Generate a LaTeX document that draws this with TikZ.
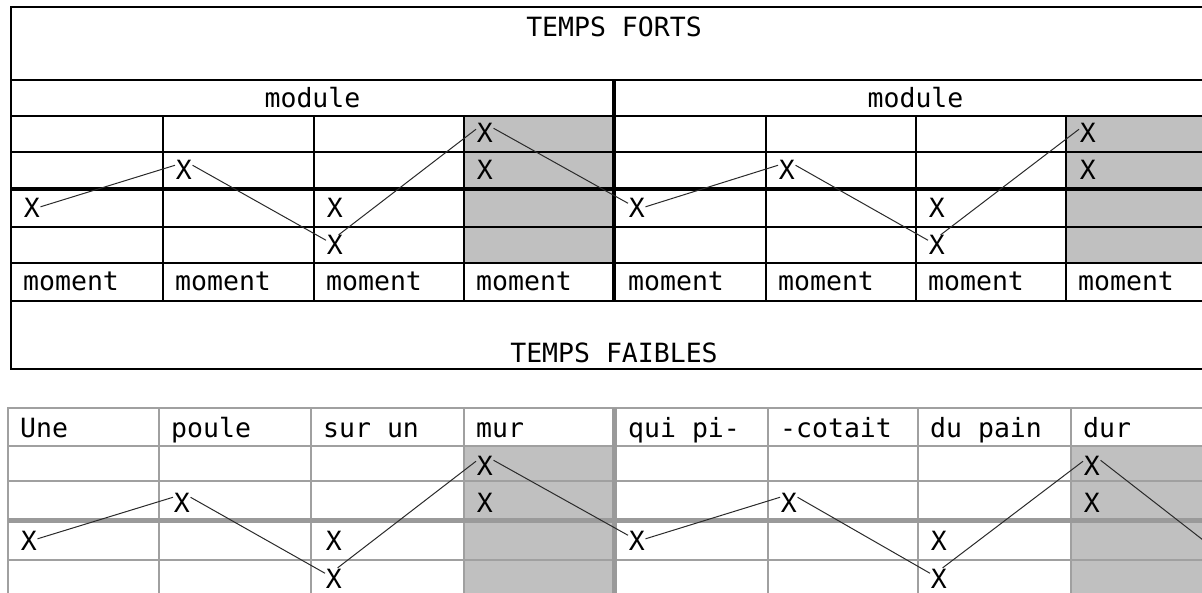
\documentclass[tikz,border=0pt]{standalone}
\usepackage{fontspec}
\newfontfamily\mono{DejaVu Sans Mono}
\definecolor{shadegray}{HTML}{C0C0C0}
\definecolor{gridgray}{HTML}{A0A0A0}
\definecolor{thickgray}{HTML}{9A9A9A}
\definecolor{linkgray}{HTML}{2A2A2A}
\tikzset{
  topline/.style={black, line width=1.3pt},
  topthick/.style={black, line width=4.5pt},
  botline/.style={gridgray, line width=1.5pt},
  botthick/.style={thickgray, line width=5pt},
  shadecell/.style={fill=shadegray},
  txt/.style={font=\mono\fontsize{26.5pt}{30pt}\selectfont, inner sep=0pt},
  cell/.style={txt, anchor=base west},
  ctr/.style={txt, anchor=base},
  mk/.style={txt, anchor=base west, inner sep=0.6pt},
  link/.style={draw=linkgray, line width=1pt},
}
\begin{document}
\begin{tikzpicture}[x=1pt, y=-1pt]
\useasboundingbox (0,0) rectangle (1202,593);

% ---------- upper table ----------
\fill[shadecell] (464,116) rectangle (614,263);
\fill[shadecell] (1066,116) rectangle (1217,263);
\draw[topline] (1217,7) -- (11,7) -- (11,369) -- (1217,369);
\foreach \yy in {80,116,152,227,263,301}
  \draw[topline] (11,\yy) -- (1217,\yy);
\foreach \xx in {163,314,464,766,916,1066}
  \draw[topline] (\xx,116) -- (\xx,301);
\draw[topthick] (11,189) -- (1217,189);
\draw[topthick] (614,80) -- (614,301);

\node[ctr] (tforts) at (614,37) {TEMPS FORTS};
\node[ctr] (modA) at (312.5,108) {module};
\node[ctr] (modB) at (915.5,108) {module};
\foreach \xx/\nm in {23/m1,175/m2,326/m3,476/m4,628/m5,778/m6,928/m7,1078/m8}
  \node[cell] (\nm) at (\xx,291) {moment};
\node[ctr] (tfaibles) at (614,363) {TEMPS FAIBLES};

% marks, rows of the upper grid (baselines 143, 180, 218, 255)
\node[mk] (a1)  at (23,218)   {X};
\node[mk] (a2)  at (175,180)  {X};
\node[mk] (a3)  at (326,218)  {X};
\node[mk] (a3b) at (326,255)  {X};
\node[mk] (a4)  at (476,143)  {X};
\node[mk] (a4b) at (476,180)  {X};
\node[mk] (a5)  at (628,218)  {X};
\node[mk] (a6)  at (778,180)  {X};
\node[mk] (a7)  at (928,218)  {X};
\node[mk] (a7b) at (928,255)  {X};
\node[mk] (a8)  at (1079,143) {X};
\node[mk] (a8b) at (1079,180) {X};

\draw[link] (a1.10) -- (a2.150);
\draw[link] (a2.30) -- (a3b.150);
\draw[link] (a3b.70) -- (a4.155);
\draw[link] (a4.30) -- (a5.150);
\draw[link] (a5.10) -- (a6.150);
\draw[link] (a6.30) -- (a7b.150);
\draw[link] (a7b.70) -- (a8.155);

% ---------- lower table ----------
\fill[shadecell] (464,446) rectangle (614,600);
\fill[shadecell] (1071,446) rectangle (1217,600);
\draw[botline] (1217,408) -- (8,408) -- (8,600);
\foreach \yy in {446,481,560}
  \draw[botline] (8,\yy) -- (1217,\yy);
\foreach \xx in {159,311,464,768,918,1071}
  \draw[botline] (\xx,408) -- (\xx,600);
\draw[botthick] (8,520) -- (1217,520);
\draw[botthick] (614,408) -- (614,600);

\node[cell] (w1) at (20,437)   {Une};
\node[cell] (w2) at (171,437)  {poule};
\node[cell] (w3) at (323,437)  {sur un};
\node[cell] (w4) at (476,437)  {mur};
\node[cell] (w5) at (628,437)  {qui pi-};
\node[cell] (w6) at (780,437)  {-cotait};
\node[cell] (w7) at (930,437)  {du pain};
\node[cell] (w8) at (1083,437) {dur};

\node[mk] (b1)  at (20,550)   {X};
\node[mk] (b2)  at (173,512)  {X};
\node[mk] (b3)  at (325,550)  {X};
\node[mk] (b3b) at (325,588)  {X};
\node[mk] (b4)  at (476,475)  {X};
\node[mk] (b4b) at (476,512)  {X};
\node[mk] (b5)  at (628,550)  {X};
\node[mk] (b6)  at (780,512)  {X};
\node[mk] (b7)  at (930,550)  {X};
\node[mk] (b7b) at (930,588)  {X};
\node[mk] (b8)  at (1083,475) {X};
\node[mk] (b8b) at (1083,512) {X};
\coordinate (bend) at (1230,561);

\draw[link] (b1.10) -- (b2.150);
\draw[link] (b2.30) -- (b3b.150);
\draw[link] (b3b.70) -- (b4.155);
\draw[link] (b4.30) -- (b5.150);
\draw[link] (b5.10) -- (b6.150);
\draw[link] (b6.30) -- (b7b.150);
\draw[link] (b7b.70) -- (b8.155);
\draw[link] (b8.30) -- (bend);
\end{tikzpicture}
\end{document}
